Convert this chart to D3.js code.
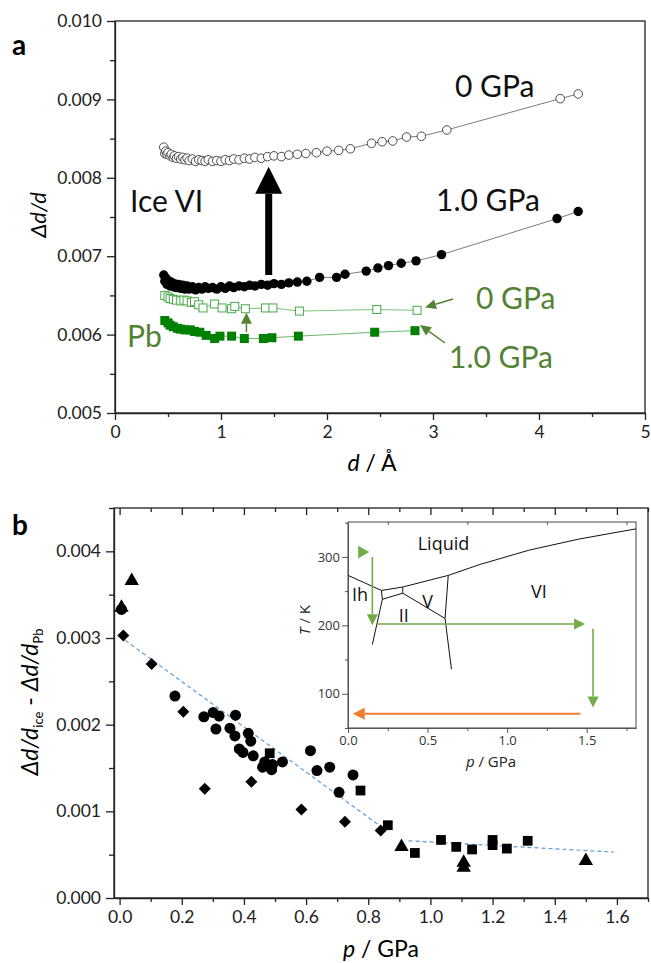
<!DOCTYPE html>
<html lang="en">
<head>
  <meta charset="UTF-8">
  <title>Ice VI strain</title>
  <script src="https://d3js.org/d3.v7.min.js"></script>
  <style>
    body { margin: 0; background: #fff; }
    svg { display: block; font-family: Lato, "Open Sans", sans-serif; }
    .axis path, .axis line { stroke: #222; stroke-width: 1.3; }
    .axis text { font-size: 17.5px; fill: #222; font-family: Lato, sans-serif; }
    .inset .axis path, .inset .axis line { stroke: #555; stroke-width: 1; }
    .inset .axis text { font-size: 13px; fill: #333; font-family: "Open Sans", sans-serif; }
  </style>
</head>
<body>
  <svg width="651" height="963"></svg>
  <script>
    // ---- panel a data (d in Angstrom, strain dd/d) ----
    const ice0D = [0.46,0.47,0.48,0.49,0.50,0.52,0.53,0.55,0.56,0.58,0.60,0.62,0.64,0.66,0.68,0.70,0.73,0.76,0.79,0.82,0.85,0.88,0.92,0.96,1.00,1.04,1.08,1.12,1.17,1.22,1.27,1.32,1.38,1.44,1.50,1.57,1.64,1.72,1.80,1.90,2.00,2.11,2.22,2.42,2.52,2.62,2.75,2.89,3.13,4.20,4.37];
    const ice0V = [0.00839,0.00831,0.00834,0.00830,0.00832,0.00828,0.00830,0.00826,0.00828,0.00825,0.00827,0.00824,0.00826,0.00823,0.00825,0.00822,0.00824,0.00821,0.00823,0.00822,0.00821,0.00823,0.00821,0.00822,0.00821,0.00823,0.00822,0.00824,0.00823,0.00825,0.00824,0.00826,0.00825,0.00827,0.00828,0.00827,0.00829,0.00830,0.00831,0.00832,0.00834,0.00835,0.00837,0.00844,0.00846,0.00847,0.00852,0.00853,0.00861,0.00901,0.00907];
    const ice1D = [0.46,0.47,0.48,0.49,0.50,0.52,0.53,0.55,0.56,0.58,0.60,0.62,0.64,0.66,0.68,0.70,0.73,0.76,0.79,0.82,0.85,0.88,0.92,0.96,1.00,1.04,1.08,1.12,1.17,1.22,1.27,1.32,1.38,1.44,1.50,1.57,1.64,1.72,1.81,1.93,2.09,2.17,2.37,2.48,2.58,2.70,2.84,3.08,4.17,4.37];
    const ice1V = [0.00676,0.00668,0.00672,0.00664,0.00669,0.00662,0.00667,0.00661,0.00665,0.00660,0.00664,0.00659,0.00663,0.00658,0.00662,0.00658,0.00661,0.00657,0.00660,0.00658,0.00661,0.00659,0.00660,0.00658,0.00661,0.00659,0.00662,0.00660,0.00662,0.00661,0.00663,0.00662,0.00664,0.00663,0.00665,0.00664,0.00666,0.00667,0.00668,0.00673,0.00673,0.00677,0.00681,0.00685,0.00688,0.00691,0.00694,0.00702,0.00748,0.00757];
    const pb0D = [0.47,0.50,0.52,0.55,0.58,0.62,0.65,0.68,0.72,0.75,0.79,0.83,0.94,1.01,1.10,1.13,1.23,1.42,1.49,1.74,2.47,2.85];
    const pb0V = [0.00650,0.00648,0.00646,0.00645,0.00644,0.00643,0.00644,0.00643,0.00641,0.00642,0.00638,0.00634,0.00639,0.00634,0.00633,0.00636,0.00633,0.00634,0.00634,0.00630,0.00632,0.00631];
    const pb1D = [0.47,0.50,0.52,0.55,0.59,0.62,0.66,0.71,0.75,0.80,0.86,0.94,0.99,1.10,1.22,1.40,1.48,1.73,2.45,2.83];
    const pb1V = [0.00618,0.00615,0.00612,0.00610,0.00608,0.00607,0.00606,0.00606,0.00604,0.00603,0.00599,0.00595,0.00598,0.00598,0.00595,0.00595,0.00596,0.00598,0.00603,0.00605];

    const topXTicks = [0, 1, 2, 3, 4, 5];
    const topXMinor = [0.5, 1.5, 2.5, 3.5, 4.5];
    const topYTicks = [0.005, 0.006, 0.007, 0.008, 0.009, 0.010];
    const topYMinor = [0.0055, 0.0065, 0.0075, 0.0085, 0.0095];

    // ---- panel b data (p in GPa) ----
    const circP = [0.006,0.178,0.271,0.301,0.320,0.310,0.373,0.355,0.371,0.414,0.422,0.385,0.397,0.430,0.467,0.460,0.492,0.489,0.524,0.614,0.635,0.676,0.751,0.706];
    const circV = [0.00333,0.00233,0.00209,0.00214,0.00210,0.00195,0.00211,0.00196,0.00187,0.00190,0.00181,0.00172,0.00168,0.00164,0.00157,0.00151,0.00154,0.00148,0.00157,0.00170,0.00147,0.00151,0.00142,0.00122];
    const diamP = [0.012,0.103,0.205,0.274,0.424,0.585,0.725,0.840];
    const diamV = [0.00303,0.00270,0.00215,0.00126,0.00134,0.00102,0.00088,0.00078];
    const sqP = [0.483,0.775,0.863,0.950,1.034,1.083,1.134,1.200,1.200,1.246,1.313];
    const sqV = [0.00167,0.00124,0.00084,0.00052,0.00067,0.00059,0.00056,0.00067,0.00061,0.00057,0.00066];
    const triP = [0.006,0.039,0.907,1.107,1.107,1.500];
    const triV = [0.00335,0.00366,0.00059,0.00041,0.00035,0.00043];
    const fitLowP = [0.0, 0.85], fitLowV = [0.00302, 0.00080];
    const fitHighP = [0.93, 1.59], fitHighV = [0.00066, 0.00053];

    const botXTicks = [0, 0.2, 0.4, 0.6, 0.8, 1.0, 1.2, 1.4, 1.6];
    const botXMinor = [0.1, 0.3, 0.5, 0.7, 0.9, 1.1, 1.3, 1.5, 1.7];
    const botYTicks = [0, 0.001, 0.002, 0.003, 0.004];
    const botYMinor = [0.0005, 0.0015, 0.0025, 0.0035, 0.0045];

    // ---- inset: phase diagram of water (p GPa, T K) ----
    const liquidus = [[0, 273], [0.21, 251], [0.344, 256], [0.63, 273], [0.83, 289], [1.14, 310], [1.45, 326], [1.81, 341]];
    const boundaries = [
      [[0.21, 251], [0.216, 238]],
      [[0.216, 238], [0.344, 247]],
      [[0.344, 256], [0.344, 247]],
      [[0.344, 247], [0.61, 210]],
      [[0.63, 273], [0.61, 210]],
      [[0.61, 210], [0.65, 136]],
      [[0.216, 238], [0.153, 172]]
    ];
    const phaseLabels = [["Liquid", 0.60, 310], ["Ih", 0.075, 235], ["II", 0.35, 205], ["V", 0.50, 225], ["VI", 1.20, 240]];
    const insXTicks = [0, 0.5, 1.0, 1.5];
    const insXMinor = [0.25, 0.75, 1.25, 1.75];
    const insYTicks = [100, 200, 300];
    const insYMinor = [50, 150, 250, 350];

    const svg = d3.select("svg");
    const green = "#548235";

    const xTop = d3.scaleLinear().domain([0, 5]).range([115, 645]);
    const yTop = d3.scaleLinear().domain([0.005, 0.010]).range([413, 21]);
    const xBot = d3.scaleLinear().domain([-0.018, 1.70]).range([114, 648]);
    const yBot = d3.scaleLinear().domain([0, 0.0045]).range([898, 508]);
    const xIn = d3.scaleLinear().domain([0, 1.81]).range([348, 636]);
    const yIn = d3.scaleLinear().domain([50, 351]).range([728, 522]);

    function addAxis(parent, axis, tx, ty) {
      const g = parent.append("g").attr("class", "axis")
        .attr("transform", `translate(${tx},${ty})`).call(axis);
      return g;
    }
    function minor(parent, axis, tx, ty) {
      addAxis(parent, axis.tickFormat("").tickSizeOuter(0), tx, ty).select(".domain").remove();
    }

    function arrow(parent, x1, y1, x2, y2, color, w, hl, hw) {
      const a = Math.atan2(y2 - y1, x2 - x1);
      const bx = x2 - hl * Math.cos(a), by = y2 - hl * Math.sin(a);
      parent.append("line").attr("x1", x1).attr("y1", y1).attr("x2", bx).attr("y2", by)
        .attr("stroke", color).attr("stroke-width", w);
      const px = -Math.sin(a) * hw / 2, py = Math.cos(a) * hw / 2;
      parent.append("path")
        .attr("d", `M${x2},${y2}L${bx + px},${by + py}L${bx - px},${by - py}Z`)
        .attr("fill", color);
    }

    // ================= panel a =================
    const ga = svg.append("g");
    ga.append("rect").attr("x", 115).attr("y", 21).attr("width", 530).attr("height", 392)
      .attr("fill", "none").attr("stroke", "#222").attr("stroke-width", 1.3);

    addAxis(ga, d3.axisBottom(xTop).tickValues(topXTicks).tickSize(7).tickSizeOuter(0).tickPadding(6).tickFormat(d3.format("d")), 0, 413);
    minor(ga, d3.axisBottom(xTop).tickValues(topXMinor).tickSize(4), 0, 413);
    addAxis(ga, d3.axisLeft(yTop).tickValues(topYTicks).tickSize(8).tickSizeOuter(0).tickPadding(5).tickFormat(d3.format(".3f")), 115, 0);
    minor(ga, d3.axisLeft(yTop).tickValues(topYMinor).tickSize(5), 115, 0);

    const lineTop = (xs, ys) => d3.line().x((d, i) => xTop(xs[i])).y((d, i) => yTop(ys[i]))(xs);

    ga.append("path").attr("d", lineTop(ice0D, ice0V)).attr("fill", "none").attr("stroke", "#444").attr("stroke-width", 0.7);
    ga.append("path").attr("d", lineTop(ice1D, ice1V)).attr("fill", "none").attr("stroke", "#444").attr("stroke-width", 0.7);
    ga.append("path").attr("d", lineTop(pb0D, pb0V)).attr("fill", "none").attr("stroke", "#7cc47c").attr("stroke-width", 1);
    ga.append("path").attr("d", lineTop(pb1D, pb1V)).attr("fill", "none").attr("stroke", "#6cb86c").attr("stroke-width", 1);

    ga.selectAll(".ice0").data(ice0D).enter().append("circle")
      .attr("cx", d => xTop(d)).attr("cy", (d, i) => yTop(ice0V[i])).attr("r", 4.3)
      .attr("fill", "#fff").attr("stroke", "#222").attr("stroke-width", 0.8);
    ga.selectAll(".ice1").data(ice1D).enter().append("circle")
      .attr("cx", d => xTop(d)).attr("cy", (d, i) => yTop(ice1V[i])).attr("r", 4.7)
      .attr("fill", "#000");
    ga.selectAll(".pb0").data(pb0D).enter().append("rect")
      .attr("x", d => xTop(d) - 4).attr("y", (d, i) => yTop(pb0V[i]) - 4)
      .attr("width", 8).attr("height", 8)
      .attr("fill", "#fff").attr("stroke", "#4aa84a").attr("stroke-width", 1);
    ga.selectAll(".pb1").data(pb1D).enter().append("rect")
      .attr("x", d => xTop(d) - 4.5).attr("y", (d, i) => yTop(pb1V[i]) - 4.5)
      .attr("width", 9).attr("height", 9).attr("fill", "#008000");

    // big black arrow
    arrow(ga, xTop(1.45), yTop(0.00676), xTop(1.45), yTop(0.00814), "#000", 7, 27, 27);
    // green small arrow
    arrow(ga, xTop(1.24), yTop(0.00603), xTop(1.24), yTop(0.00628), green, 1.5, 11, 11);
    // label arrows
    arrow(ga, 453, 299, 425, 307.5, green, 1.5, 11, 10);
    arrow(ga, 445, 343, 420, 325, green, 1.5, 11, 10);

    const bigText = (g, x, y, s, col) => g.append("text").attr("x", x).attr("y", y)
      .style("font-size", "30px").attr("fill", col).text(s);
    bigText(ga, 455, 97, "0 GPa", "#111");
    bigText(ga, 436, 211, "1.0 GPa", "#111");
    bigText(ga, 130, 212, "Ice VI", "#111");
    bigText(ga, 127, 347, "Pb", green);
    bigText(ga, 476, 309, "0 GPa", green);
    bigText(ga, 449, 368, "1.0 GPa", green);

    svg.append("text").attr("x", 12).attr("y", 55).style("font-size", "28px")
      .style("font-weight", "bold").text("a");
    svg.append("text").attr("transform", "translate(46,215) rotate(-90)")
      .attr("text-anchor", "middle").style("font-size", "22px").style("font-style", "italic").text("Δd/d");
    const xt = svg.append("text").attr("x", 372).attr("y", 471).attr("text-anchor", "middle").style("font-size", "23px");
    xt.append("tspan").style("font-style", "italic").text("d");
    xt.append("tspan").text(" / Å");

    // ================= panel b =================
    const gb = svg.append("g");
    gb.append("rect").attr("x", 114).attr("y", 508).attr("width", 534).attr("height", 390)
      .attr("fill", "none").attr("stroke", "#222").attr("stroke-width", 1.3);

    addAxis(gb, d3.axisBottom(xBot).tickValues(botXTicks).tickSize(7).tickSizeOuter(0).tickPadding(6).tickFormat(d3.format(".1f")), 0, 898);
    minor(gb, d3.axisBottom(xBot).tickValues(botXMinor).tickSize(4), 0, 898);
    minor(gb, d3.axisBottom(xBot).tickValues(botXTicks).tickSize(7), 0, 508);
    minor(gb, d3.axisBottom(xBot).tickValues(botXMinor).tickSize(4), 0, 508);
    addAxis(gb, d3.axisLeft(yBot).tickValues(botYTicks).tickSize(8).tickSizeOuter(0).tickPadding(5).tickFormat(d3.format(".3f")), 114, 0);
    minor(gb, d3.axisLeft(yBot).tickValues(botYMinor).tickSize(5), 114, 0);

    const lineBot = (xs, ys) => d3.line().x((d, i) => xBot(xs[i])).y((d, i) => yBot(ys[i]))(xs);
    gb.append("path").attr("d", lineBot(fitLowP, fitLowV)).attr("stroke", "#5b9bd5")
      .attr("stroke-width", 1.2).attr("stroke-dasharray", "4,3").attr("fill", "none");
    gb.append("path").attr("d", lineBot(fitHighP, fitHighV)).attr("stroke", "#5b9bd5")
      .attr("stroke-width", 1.2).attr("stroke-dasharray", "4,3").attr("fill", "none");

    function markers(xs, ys, type, size, rot) {
      gb.selectAll(null).data(xs).enter().append("path")
        .attr("d", d3.symbol().type(type).size(size))
        .attr("transform", (d, i) => `translate(${xBot(d)},${yBot(ys[i])}) rotate(${rot})`)
        .attr("fill", "#000");
    }
    markers(triP, triV, d3.symbolTriangle, 90, 0);
    markers(circP, circV, d3.symbolCircle, 95, 0);
    markers(diamP, diamV, d3.symbolSquare, 72, 45);
    markers(sqP, sqV, d3.symbolSquare, 95, 0);

    svg.append("text").attr("x", 12).attr("y", 535).style("font-size", "28px")
      .style("font-weight", "bold").text("b");
    const yt = svg.append("text").attr("transform", "translate(38,702) rotate(-90)")
      .attr("text-anchor", "middle").style("font-size", "23px");
    yt.append("tspan").style("font-style", "italic").text("Δd/d");
    yt.append("tspan").attr("dy", 5).style("font-size", "13px").text("ice");
    yt.append("tspan").attr("dy", -5).text(" - ");
    yt.append("tspan").style("font-style", "italic").text("Δd/d");
    yt.append("tspan").attr("dy", 5).style("font-size", "13px").text("Pb");
    const pt = svg.append("text").attr("x", 381).attr("y", 957).attr("text-anchor", "middle").style("font-size", "23px");
    pt.append("tspan").style("font-style", "italic").text("p");
    pt.append("tspan").text(" / GPa");

    // ================= inset =================
    const gi = svg.append("g").attr("class", "inset");
    gi.append("rect").attr("x", 348).attr("y", 522).attr("width", 288).attr("height", 206)
      .attr("fill", "#fff").attr("stroke", "#444").attr("stroke-width", 1);
    addAxis(gi, d3.axisBottom(xIn).tickValues(insXTicks).tickSize(5).tickSizeOuter(0).tickPadding(3).tickFormat(d3.format(".1f")), 0, 728);
    minor(gi, d3.axisBottom(xIn).tickValues(insXMinor).tickSize(3), 0, 728);
    minor(gi, d3.axisBottom(xIn).tickValues(insXMinor).tickSize(3), 0, 522);
    addAxis(gi, d3.axisLeft(yIn).tickValues(insYTicks).tickSize(6).tickSizeOuter(0).tickPadding(2).tickFormat(d3.format("d")), 348, 0);
    minor(gi, d3.axisLeft(yIn).tickValues(insYMinor).tickSize(3), 348, 0);

    const phaseLine = d3.line().x(d => xIn(d[0])).y(d => yIn(d[1]));
    gi.append("path").attr("d", phaseLine(liquidus)).attr("fill", "none").attr("stroke", "#111").attr("stroke-width", 1);
    gi.selectAll(".bd").data(boundaries).enter().append("path")
      .attr("d", d => phaseLine(d)).attr("fill", "none").attr("stroke", "#111").attr("stroke-width", 1);
    gi.selectAll(".pl").data(phaseLabels).enter().append("text")
      .attr("x", d => xIn(d[1])).attr("y", d => yIn(d[2])).attr("text-anchor", "middle")
      .style("font-family", "'Open Sans', sans-serif").style("font-size", "18px").attr("fill", "#111")
      .text(d => d[0]);

    const igreen = "#70ad47", orange = "#ed7d31";
    gi.append("path").attr("d", d3.symbol().type(d3.symbolTriangle).size(70))
      .attr("transform", `translate(${xIn(0.087)},${yIn(307)}) rotate(90)`).attr("fill", igreen);
    arrow(gi, xIn(0.153), yIn(300), xIn(0.153), yIn(200), igreen, 1.6, 11, 11);
    arrow(gi, xIn(0.178), yIn(202), xIn(1.49), yIn(202), igreen, 1.6, 11, 11);
    arrow(gi, xIn(1.54), yIn(195), xIn(1.54), yIn(80), igreen, 1.6, 11, 11);
    arrow(gi, xIn(1.46), yIn(71), xIn(0.03), yIn(71), orange, 2, 12, 12);

    const tk = gi.append("text").attr("transform", "translate(310,620) rotate(-90)")
      .attr("text-anchor", "middle").style("font-size", "15px").style("font-family", "'Open Sans', sans-serif").attr("fill", "#222");
    tk.append("tspan").style("font-style", "italic").text("T");
    tk.append("tspan").text(" / K");
    const ik = gi.append("text").attr("x", 491).attr("y", 767).attr("text-anchor", "middle")
      .style("font-size", "15px").style("font-family", "'Open Sans', sans-serif").attr("fill", "#222");
    ik.append("tspan").style("font-style", "italic").text("p");
    ik.append("tspan").text(" / GPa");
  </script>
</body>
</html>
